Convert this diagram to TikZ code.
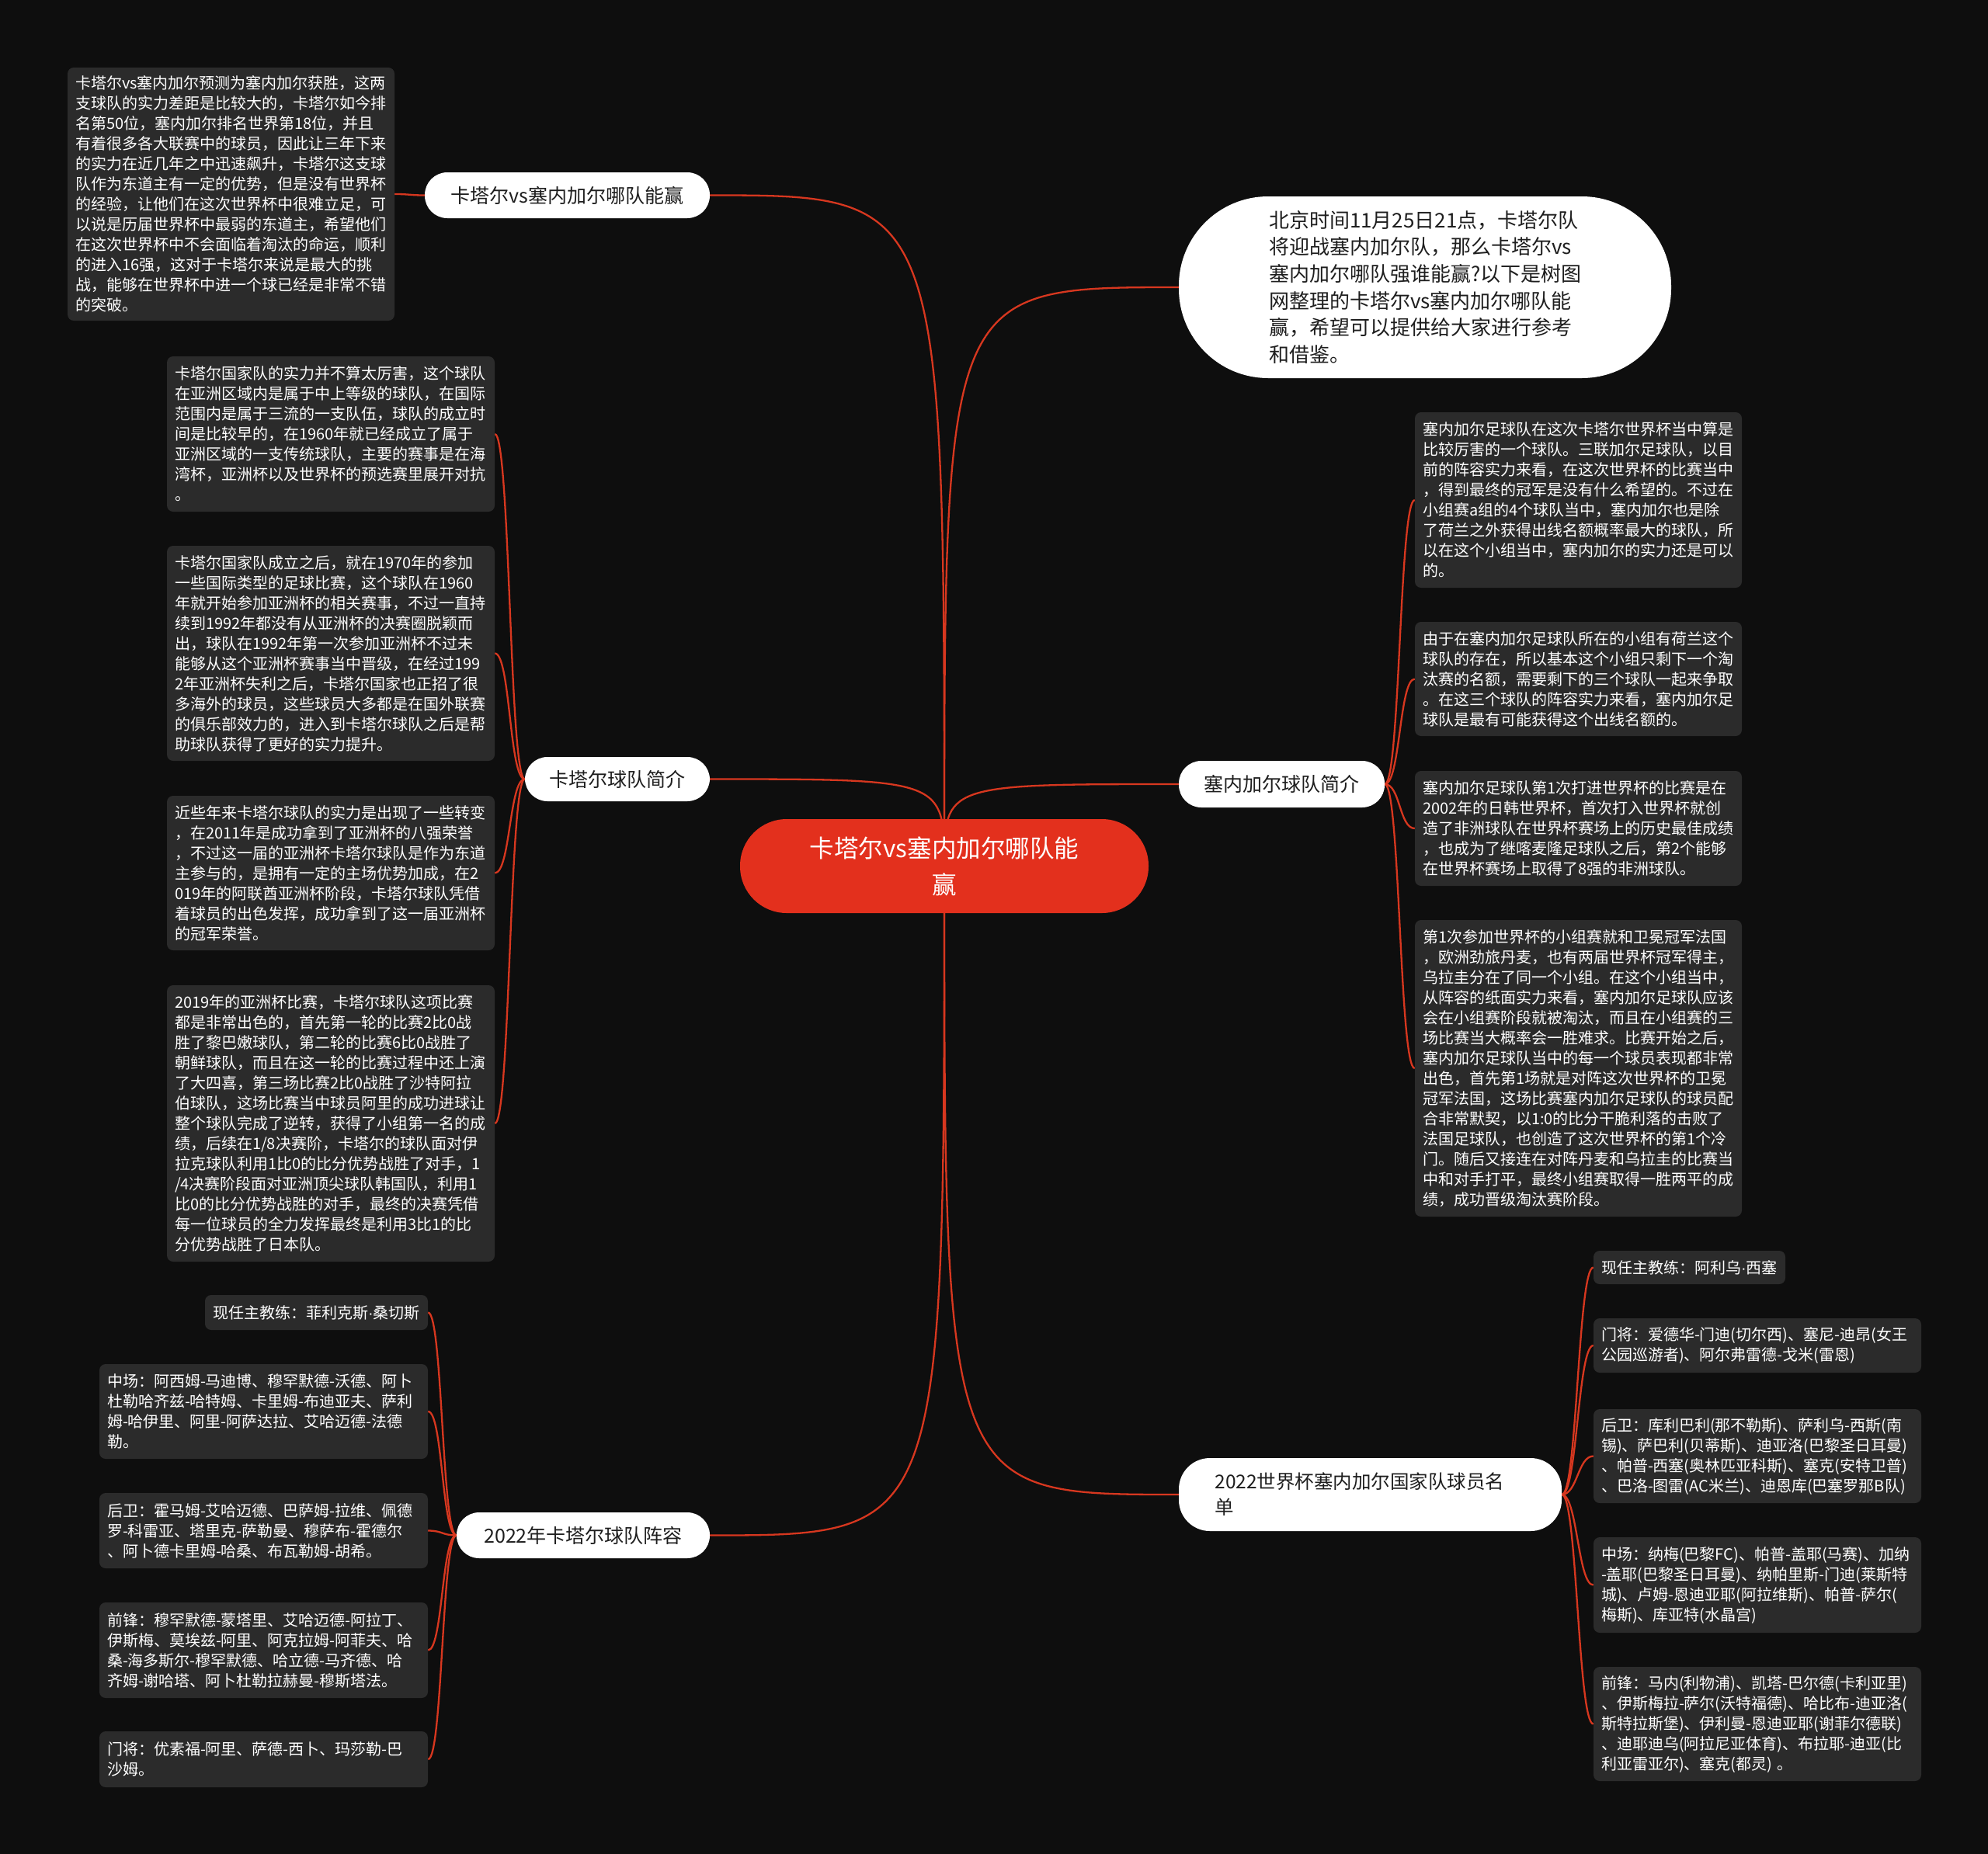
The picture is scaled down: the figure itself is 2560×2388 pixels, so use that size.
\documentclass[tikz,border=0pt]{standalone}
\usepackage{fontspec}
\setmainfont{Noto Sans CJK SC}
\newfontfamily\dotfont{Liberation Sans}
\usetikzlibrary{calc}
\pgfdeclarelayer{background}
\pgfsetlayers{background,main}
\definecolor{bgc}{HTML}{0E0E0E}
\definecolor{leafc}{HTML}{2B2B2B}
\definecolor{centerc}{HTML}{E3301D}
\definecolor{linec}{HTML}{D7371F}
\definecolor{branchtext}{HTML}{1E1E1E}
\tikzset{
  leaf/.style={fill=leafc, rounded corners=8pt, text=white, font=\fontsize{20}{26}\selectfont, align=left, inner xsep=10pt, inner ysep=0pt},
  branch/.style={fill=white, text=branchtext, rounded corners=29pt, font=\fontsize{25}{33}\selectfont, align=center, inner sep=0pt},
  link/.style={draw=linec, line width=2.3pt},
}
\begin{document}
\begin{tikzpicture}[x=1pt,y=-1pt]
\useasboundingbox (0,0) rectangle (2560,2388);

% centre
\node[fill=centerc, text=white, rounded corners=60pt, minimum width=526pt, minimum height=121pt, inner sep=0pt, align=center, font=\fontsize{31.5}{47}\selectfont] (C) at (1216,1115.5) {卡塔尔vs塞内加尔哪队能\\赢};

% branches
\node[branch, minimum width=367pt, minimum height=59pt] (B1) at (730.5,251.5) {卡塔尔vs塞内加尔哪队能赢};
\node[branch, minimum width=238pt, minimum height=57pt] (B2) at (795,1003.5) {卡塔尔球队简介};
\node[branch, minimum width=326pt, minimum height=59pt] (B3) at (751,1977.5) {2022年卡塔尔球队阵容};
\node[branch, minimum width=634pt, minimum height=234pt, rounded corners=115pt, text width=402pt, align=left, font=\fontsize{26}{34.7}\selectfont] (B4) at (1835,370) {北京时间11月25日21点，卡塔尔队\\将迎战塞内加尔队，那么卡塔尔vs\\塞内加尔哪队强谁能赢?以下是树图\\网整理的卡塔尔vs塞内加尔哪队能\\赢，希望可以提供给大家进行参考\\和借鉴。};
\node[branch, minimum width=265pt, minimum height=60pt] (B5) at (1650.5,1010) {塞内加尔球队简介};
\node[branch, minimum width=493pt, minimum height=94pt, rounded corners=40pt, text width=400pt, align=left, font=\fontsize{24.5}{33}\selectfont] (B6) at (1764.5,1925) {2022世界杯塞内加尔国家队球员名\\单};

% leaves of B1
\node[leaf, text width=401pt, minimum height=326pt] (L1) at (297.5,250) {卡塔尔vs塞内加尔预测为塞内加尔获胜，这两\\支球队的实力差距是比较大的，卡塔尔如今排\\名第50位，塞内加尔排名世界第18位，并且\\有着很多各大联赛中的球员，因此让三年下来\\的实力在近几年之中迅速飙升，卡塔尔这支球\\队作为东道主有一定的优势，但是没有世界杯\\的经验，让他们在这次世界杯中很难立足，可\\以说是历届世界杯中最弱的东道主，希望他们\\在这次世界杯中不会面临着淘汰的命运，顺利\\的进入16强，这对于卡塔尔来说是最大的挑\\战，能够在世界杯中进一个球已经是非常不错\\的突破。};

% leaves of B2
\node[leaf, text width=402pt, minimum height=200pt] (L2) at (426,559) {卡塔尔国家队的实力并不算太厉害，这个球队\\在亚洲区域内是属于中上等级的球队，在国际\\范围内是属于三流的一支队伍，球队的成立时\\间是比较早的，在1960年就已经成立了属于\\亚洲区域的一支传统球队，主要的赛事是在海\\湾杯，亚洲杯以及世界杯的预选赛里展开对抗\\。};
\node[leaf, text width=402pt, minimum height=277pt] (L3) at (426,841.5) {卡塔尔国家队成立之后，就在1970年的参加\\一些国际类型的足球比赛，这个球队在1960\\年就开始参加亚洲杯的相关赛事，不过一直持\\续到1992年都没有从亚洲杯的决赛圈脱颖而\\出，球队在1992年第一次参加亚洲杯不过未\\能够从这个亚洲杯赛事当中晋级，在经过199\\2年亚洲杯失利之后，卡塔尔国家也正招了很\\多海外的球员，这些球员大多都是在国外联赛\\的俱乐部效力的，进入到卡塔尔球队之后是帮\\助球队获得了更好的实力提升。};
\node[leaf, text width=402pt, minimum height=199pt] (L4) at (426,1124.5) {近些年来卡塔尔球队的实力是出现了一些转变\\，在2011年是成功拿到了亚洲杯的八强荣誉\\，不过这一届的亚洲杯卡塔尔球队是作为东道\\主参与的，是拥有一定的主场优势加成，在2\\019年的阿联酋亚洲杯阶段，卡塔尔球队凭借\\着球员的出色发挥，成功拿到了这一届亚洲杯\\的冠军荣誉。};
\node[leaf, text width=402pt, minimum height=356pt] (L5) at (426,1447) {2019年的亚洲杯比赛，卡塔尔球队这项比赛\\都是非常出色的，首先第一轮的比赛2比0战\\胜了黎巴嫩球队，第二轮的比赛6比0战胜了\\朝鲜球队，而且在这一轮的比赛过程中还上演\\了大四喜，第三场比赛2比0战胜了沙特阿拉\\伯球队，这场比赛当中球员阿里的成功进球让\\整个球队完成了逆转，获得了小组第一名的成\\绩，后续在1/8决赛阶，卡塔尔的球队面对伊\\拉克球队利用1比0的比分优势战胜了对手，1\\/4决赛阶段面对亚洲顶尖球队韩国队，利用1\\比0的比分优势战胜的对手，最终的决赛凭借\\每一位球员的全力发挥最终是利用3比1的比\\分优势战胜了日本队。};

% leaves of B3
\node[leaf, text width=267pt, minimum height=45pt] (Q1) at (407.5,1690.5) {现任主教练：菲利克斯{\dotfont ·}桑切斯};
\node[leaf, text width=403pt, minimum height=122pt] (Q2) at (339.5,1818) {中场：阿西姆-马迪博、穆罕默德-沃德、阿卜\\杜勒哈齐兹-哈特姆、卡里姆-布迪亚夫、萨利\\姆-哈伊里、阿里-阿萨达拉、艾哈迈德-法德\\勒。};
\node[leaf, text width=403pt, minimum height=97pt] (Q3) at (339.5,1971.5) {后卫：霍马姆-艾哈迈德、巴萨姆-拉维、佩德\\罗-科雷亚、塔里克-萨勒曼、穆萨布-霍德尔\\、阿卜德卡里姆-哈桑、布瓦勒姆-胡希。};
\node[leaf, text width=403pt, minimum height=123pt] (Q4) at (339.5,2125.5) {前锋：穆罕默德-蒙塔里、艾哈迈德-阿拉丁、\\伊斯梅、莫埃兹-阿里、阿克拉姆-阿菲夫、哈\\桑-海多斯尔-穆罕默德、哈立德-马齐德、哈\\齐姆-谢哈塔、阿卜杜勒拉赫曼-穆斯塔法。};
\node[leaf, text width=403pt, minimum height=72pt] (Q5) at (339.5,2266) {门将：优素福-阿里、萨德-西卜、玛莎勒-巴\\沙姆。};

% leaves of B5
\node[leaf, text width=401pt, minimum height=226pt] (R1) at (2032.5,644) {塞内加尔足球队在这次卡塔尔世界杯当中算是\\比较厉害的一个球队。三联加尔足球队，以目\\前的阵容实力来看，在这次世界杯的比赛当中\\，得到最终的冠军是没有什么希望的。不过在\\小组赛a组的4个球队当中，塞内加尔也是除\\了荷兰之外获得出线名额概率最大的球队，所\\以在这个小组当中，塞内加尔的实力还是可以\\的。};
\node[leaf, text width=401pt, minimum height=147pt] (R2) at (2032.5,874.5) {由于在塞内加尔足球队所在的小组有荷兰这个\\球队的存在，所以基本这个小组只剩下一个淘\\汰赛的名额，需要剩下的三个球队一起来争取\\。在这三个球队的阵容实力来看，塞内加尔足\\球队是最有可能获得这个出线名额的。};
\node[leaf, text width=401pt, minimum height=148pt] (R3) at (2032.5,1067) {塞内加尔足球队第1次打进世界杯的比赛是在\\2002年的日韩世界杯，首次打入世界杯就创\\造了非洲球队在世界杯赛场上的历史最佳成绩\\，也成为了继喀麦隆足球队之后，第2个能够\\在世界杯赛场上取得了8强的非洲球队。};
\node[leaf, text width=401pt, minimum height=382pt] (R4) at (2032.5,1376) {第1次参加世界杯的小组赛就和卫冕冠军法国\\，欧洲劲旅丹麦，也有两届世界杯冠军得主，\\乌拉圭分在了同一个小组。在这个小组当中，\\从阵容的纸面实力来看，塞内加尔足球队应该\\会在小组赛阶段就被淘汰，而且在小组赛的三\\场比赛当大概率会一胜难求。比赛开始之后，\\塞内加尔足球队当中的每一个球员表现都非常\\出色，首先第1场就是对阵这次世界杯的卫冕\\冠军法国，这场比赛塞内加尔足球队的球员配\\合非常默契，以1:0的比分干脆利落的击败了\\法国足球队，也创造了这次世界杯的第1个冷\\门。随后又接连在对阵丹麦和乌拉圭的比赛当\\中和对手打平，最终小组赛取得一胜两平的成\\绩，成功晋级淘汰赛阶段。};

% leaves of B6
\node[leaf, text width=227pt, minimum height=43pt] (S1) at (2175.5,1632.5) {现任主教练：阿利乌{\dotfont ·}西塞};
\node[leaf, text width=402pt, minimum height=70pt] (S2) at (2263,1733) {门将：爱德华-门迪(切尔西)、塞尼-迪昂(女王\\公园巡游者)、阿尔弗雷德-戈米(雷恩)};
\node[leaf, text width=402pt, minimum height=121pt] (S3) at (2263,1875.5) {后卫：库利巴利(那不勒斯)、萨利乌-西斯(南\\锡)、萨巴利(贝蒂斯)、迪亚洛(巴黎圣日耳曼)\\、帕普-西塞(奥林匹亚科斯)、塞克(安特卫普)\\、巴洛-图雷(AC米兰)、迪恩库(巴塞罗那B队)};
\node[leaf, text width=402pt, minimum height=123pt] (S4) at (2263,2041.5) {中场：纳梅(巴黎FC)、帕普-盖耶(马赛)、加纳\\-盖耶(巴黎圣日耳曼)、纳帕里斯-门迪(莱斯特\\城)、卢姆-恩迪亚耶(阿拉维斯)、帕普-萨尔(\\梅斯)、库亚特(水晶宫)};
\node[leaf, text width=402pt, minimum height=147pt] (S5) at (2263,2220.5) {前锋：马内(利物浦)、凯塔-巴尔德(卡利亚里)\\、伊斯梅拉-萨尔(沃特福德)、哈比布-迪亚洛(\\斯特拉斯堡)、伊利曼-恩迪亚耶(谢菲尔德联)\\、迪耶迪乌(阿拉尼亚体育)、布拉耶-迪亚(比\\利亚雷亚尔)、塞克(都灵) 。};

\begin{pgfonlayer}{background}
\fill[bgc] (0,0) rectangle (2560,2388);
% centre to branches
\draw[link] (C.center) .. controls (C.center |- B1.east) .. (B1.east);
\draw[link] (C.center) .. controls (C.center |- B2.east) .. (B2.east);
\draw[link] (C.center) .. controls (C.center |- B3.east) .. (B3.east);
\draw[link] (C.center) .. controls (C.center |- B4.west) .. (B4.west);
\draw[link] (C.center) .. controls (C.center |- B5.west) .. (B5.west);
\draw[link] (C.center) .. controls (C.center |- B6.west) .. (B6.west);
% branches to leaves
\draw[link] (B1.west) .. controls +(-20,0) and +(20,0) .. (L1.east);
\foreach \n in {L2,L3,L4,L5}
  \draw[link] (B2.west) .. controls +(-20,0) and +(20,0) .. (\n.east);
\foreach \n in {Q1,Q2,Q3,Q4,Q5}
  \draw[link] (B3.west) .. controls +(-19,0) and +(19,0) .. (\n.east);
\foreach \n in {R1,R2,R3,R4}
  \draw[link] (B5.east) .. controls +(20,0) and +(-20,0) .. (\n.west);
\foreach \n in {S1,S2,S3,S4,S5}
  \draw[link] (B6.east) .. controls +(20,0) and +(-20,0) .. (\n.west);
\end{pgfonlayer}
\end{tikzpicture}
\end{document}
